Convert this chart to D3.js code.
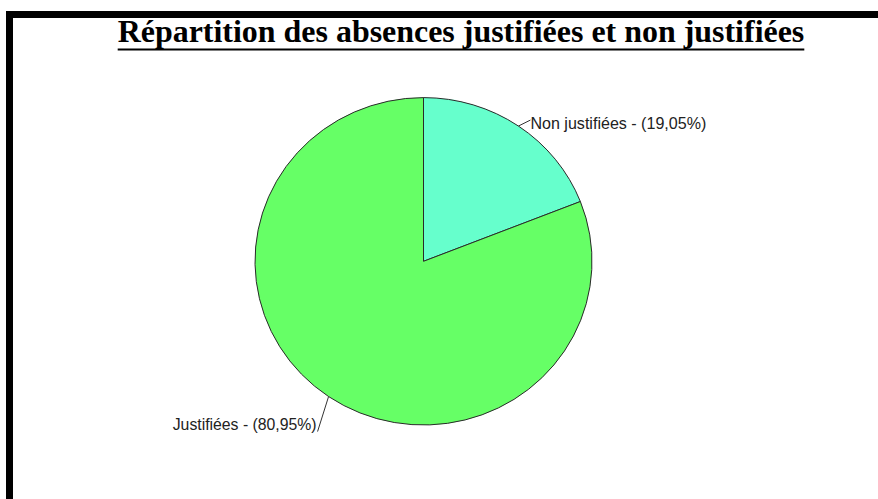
<!DOCTYPE html>
<html><head><meta charset="utf-8">
<script src="https://cdn.jsdelivr.net/npm/d3@7"></script>
<style>
html,body{margin:0;padding:0;background:#fff;}
svg{display:block;}
</style></head>
<body>
<svg id="chart" width="878" height="499"></svg>
<script>
const categories = ["Non justifiées", "Justifiées"];
const values = [19.05, 80.95];
const labels = ["Non justifiées - (19,05%)", "Justifiées - (80,95%)"];
const colors = ["#66FFCC", "#66FF66"];
const title = "Répartition des absences justifiées et non justifiées";

const svg = d3.select("#chart");
const W = 878, H = 499;
svg.append("rect").attr("width", W).attr("height", H).attr("fill", "#fff");
// frame (top & left visible)
svg.append("rect").attr("x", 6).attr("y", 11).attr("width", W - 6).attr("height", 7).attr("fill", "#000");
svg.append("rect").attr("x", 6).attr("y", 11).attr("width", 7).attr("height", H - 11).attr("fill", "#000");

// title
const t = svg.append("text")
  .attr("x", 461).attr("y", 42)
  .attr("text-anchor", "middle")
  .attr("font-family", "'Liberation Serif','Times New Roman',serif")
  .attr("font-weight", "bold")
  .attr("font-size", 100)
  .attr("fill", "#000")
  .text(title);
const wAt100 = t.node().getComputedTextLength();
const fs = 100 * 687 / wAt100;
t.attr("font-size", fs);
const tw = t.node().getComputedTextLength();
svg.append("rect").attr("x", 461 - tw / 2).attr("y", 48.5).attr("width", tw).attr("height", 2).attr("fill", "#000");

// pie
const cx = 423.5, cy = 261.3, rx = 168.5, ry = 163.7;
const pie = d3.pie().sort(null).value(d => d)(values);
const arc = d3.arc().innerRadius(0).outerRadius(rx);
const g = svg.append("g").attr("transform", `translate(${cx},${cy}) scale(1,${ry / rx})`);
g.selectAll("path").data(pie).enter().append("path")
  .attr("d", arc)
  .attr("fill", (d, i) => colors[i])
  .attr("stroke", "#2a2a2a")
  .attr("stroke-width", 1)
  .attr("vector-effect", "non-scaling-stroke");

// labels with leader lines
const offsets = [{dx: 12, dy: -6, tx: 0, ty: 9, anchor: "start"},
                 {dx: -11, dy: 35, tx: -1, ty: -2, anchor: "end"}];
const targetW = [176, 144];
pie.forEach((d, i) => {
  const a = (d.startAngle + d.endAngle) / 2;
  const px = cx + rx * Math.sin(a), py = cy - ry * Math.cos(a);
  const o = offsets[i];
  const ex = px + o.dx, ey = py + o.dy;
  svg.append("line").attr("x1", px).attr("y1", py).attr("x2", ex).attr("y2", ey)
    .attr("stroke", "#333").attr("stroke-width", 1);
  const lt = svg.append("text").attr("x", ex + o.tx).attr("y", ey + o.ty)
    .attr("text-anchor", o.anchor)
    .attr("font-family", "'Liberation Sans',Arial,sans-serif")
    .attr("font-size", 16)
    .attr("fill", "#222")
    .text(labels[i]);
  const lw = lt.node().getComputedTextLength();
  lt.attr("font-size", 16 * targetW[i] / lw);
});
</script>
</body></html>
